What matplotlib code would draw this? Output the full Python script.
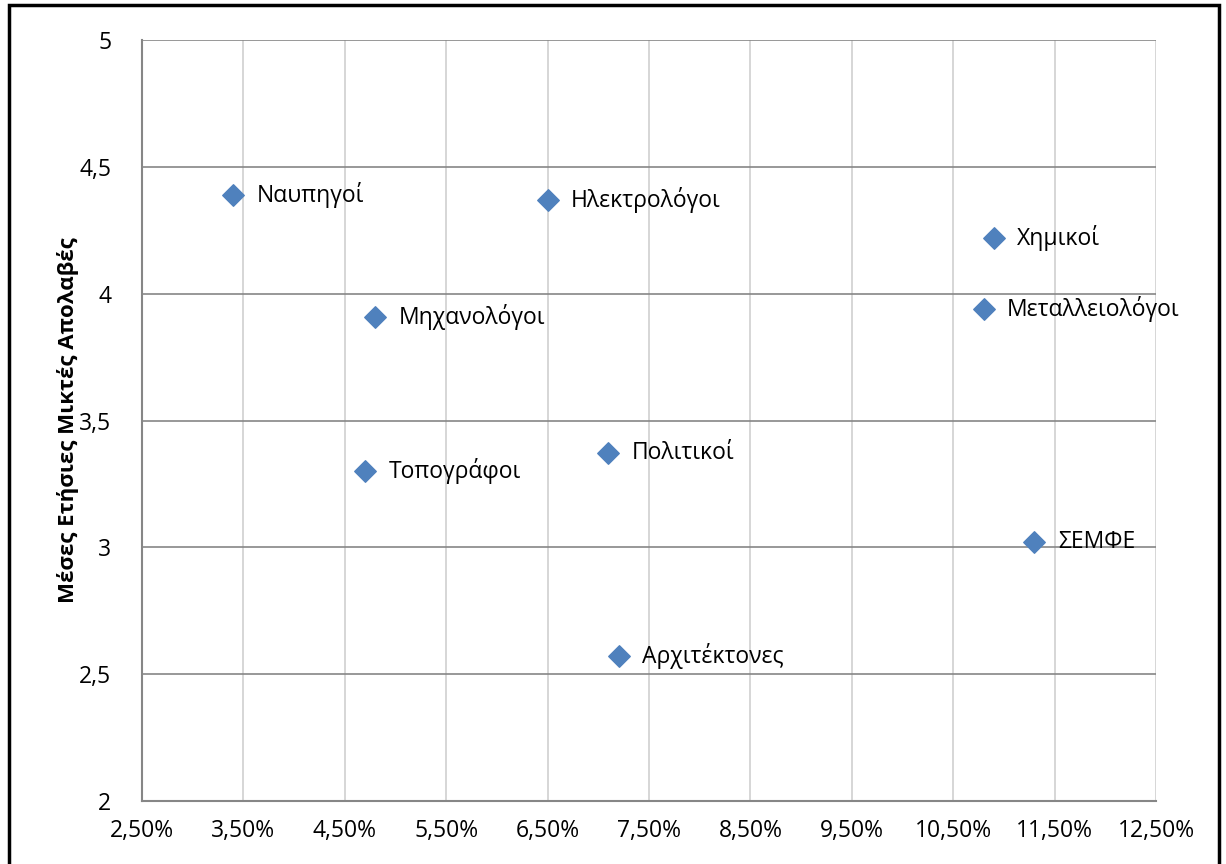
import matplotlib
matplotlib.use("Agg")
import matplotlib.pyplot as plt
from matplotlib.patches import Rectangle
from matplotlib.ticker import FuncFormatter, FixedLocator

plt.rcParams['font.family'] = ['Open Sans', 'DejaVu Sans']

# data
labels = ['Ναυπηγοί', 'Ηλεκτρολόγοι', 'Χημικοί', 'Μεταλλειολόγοι', 'Μηχανολόγοι',
          'Πολιτικοί', 'Τοπογράφοι', 'ΣΕΜΦΕ', 'Αρχιτέκτονες']
x_vals = [0.034, 0.065, 0.109, 0.108, 0.048, 0.071, 0.047, 0.113, 0.072]
y_vals = [4.39, 4.37, 4.22, 3.94, 3.91, 3.37, 3.30, 3.02, 2.57]
x_ticks = [0.025, 0.035, 0.045, 0.055, 0.065, 0.075, 0.085, 0.095, 0.105, 0.115, 0.125]
y_ticks = [2, 2.5, 3, 3.5, 4, 4.5, 5]
y_title = 'Μέσες Ετήσιες Μικτές Απολαβές'

fig = plt.figure(figsize=(12.26, 8.64), dpi=100)
ax = fig.add_axes([0.1158, 0.0729, 0.8271, 0.8808])

ax.scatter(x_vals, y_vals, marker='D', s=120, color='#4F81BD', zorder=3)
for lab, x, y in zip(labels, x_vals, y_vals):
    ax.annotate(lab, (x, y), xytext=(17, 0), textcoords='offset points',
                va='center', ha='left', fontsize=16.5)

ax.set_xlim(x_ticks[0], x_ticks[-1])
ax.set_ylim(y_ticks[0], y_ticks[-1])
ax.xaxis.set_major_locator(FixedLocator(x_ticks))
ax.yaxis.set_major_locator(FixedLocator(y_ticks))
ax.xaxis.set_major_formatter(FuncFormatter(lambda v, p: f"{v*100:.2f}%".replace('.', ',')))
ax.yaxis.set_major_formatter(FuncFormatter(lambda v, p: f"{v:g}".replace('.', ',')))

ax.grid(axis='y', color='#868686', linewidth=1.2)
ax.grid(axis='x', color='#D0D0D0', linewidth=1.2)
ax.set_axisbelow(True)
for side in ['top', 'right']:
    ax.spines[side].set_visible(False)
for side in ['left', 'bottom']:
    ax.spines[side].set_color('#868686')
    ax.spines[side].set_linewidth(1.5)
ax.tick_params(length=0, labelsize=16.5)
ax.tick_params(axis='y', pad=22)
ax.tick_params(axis='x', pad=13)

ax.set_ylabel(y_title, fontsize=16, fontweight='bold', labelpad=0)

fig.patches.append(Rectangle((0.0073, -0.05), 0.9870, 1.0445, transform=fig.transFigure,
                             fill=False, edgecolor='black', linewidth=2.5))

fig.savefig('out.png', dpi=100)
